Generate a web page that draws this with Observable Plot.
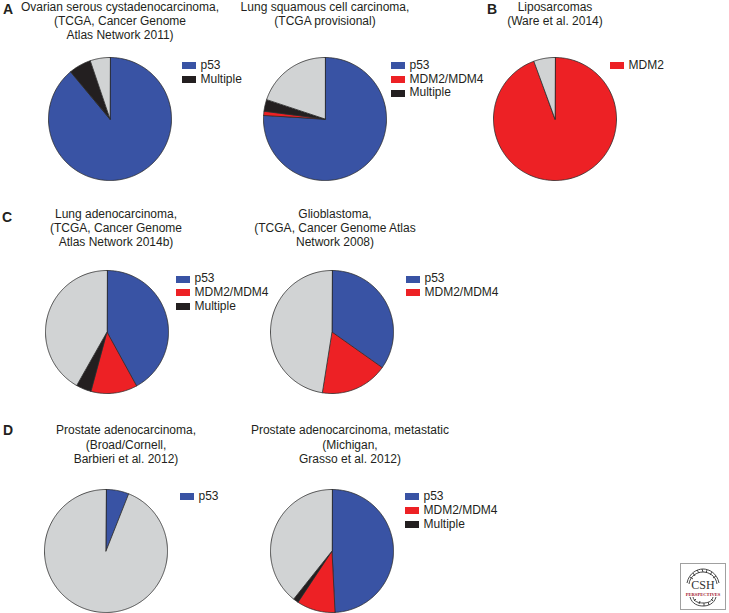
<!DOCTYPE html>
<html><head><meta charset="utf-8">
<script src="https://cdn.jsdelivr.net/npm/d3@7"></script>
<script src="https://cdn.jsdelivr.net/npm/@observablehq/plot@0.6"></script>
<style>
body{margin:0;background:#fff;}
#fig{position:relative;width:729px;height:613px;font-family:"Liberation Sans",Arial,Helvetica,sans-serif;color:#231f20;overflow:hidden;background:#fff;}
.title{position:absolute;width:320px;text-align:center;font-size:12px;line-height:14.2px;white-space:nowrap;}
.letter{position:absolute;font-weight:bold;font-size:14px;line-height:14px;}
.legend{position:absolute;font-size:12px;white-space:nowrap;}
.legend .row{display:flex;align-items:center;height:13.7px;line-height:13.7px;}
.legend .sw{width:13.5px;height:7px;margin-right:5px;flex:none;}
.pie{position:absolute;}
#logo{position:absolute;left:680px;top:563px;width:46px;height:47px;border:1px solid #a0a0a0;box-sizing:border-box;background:#fff;}
</style></head><body><div id="fig"></div>
<script>
// ---- data ----
const categories = ["p53", "MDM2/MDM4", "Multiple", "None"];
const colors = ["#3953a4", "#ed2125", "#231f20", "#d1d3d4"];

const ovarianValues     = [88.9, 0,    5.9, 5.2];
const lungSqValues      = [75.9, 1.1,  3.1, 19.9];
const liposarcomaValues = [0,    94.4, 0,   5.6];
const lungAdValues      = [42.0, 12.2, 4.0, 41.8];
const gbmValues         = [34.8, 17.7, 0,   47.5];
const prostateValues    = [6.0,  0,    0,   94.0];
const prostateMetValues = [49.2, 10.1, 1.4, 39.3];

const ovarianLegend     = ["p53", "Multiple"];
const lungSqLegend      = ["p53", "MDM2/MDM4", "Multiple"];
const liposarcomaLegend = ["MDM2"];
const lungAdLegend      = ["p53", "MDM2/MDM4", "Multiple"];
const gbmLegend         = ["p53", "MDM2/MDM4"];
const prostateLegend    = ["p53"];
const prostateMetLegend = ["p53", "MDM2/MDM4", "Multiple"];
const legendColorOf = {"p53": 0, "MDM2/MDM4": 1, "MDM2": 1, "Multiple": 2};

const ovarianTitle     = ["Ovarian serous cystadenocarcinoma,", "(TCGA, Cancer Genome", "Atlas Network 2011)"];
const lungSqTitle      = ["Lung squamous cell carcinoma,", "(TCGA provisional)"];
const liposarcomaTitle = ["Liposarcomas", "(Ware et al. 2014)"];
const lungAdTitle      = ["Lung adenocarcinoma,", "(TCGA, Cancer Genome", "Atlas Network 2014b)"];
const gbmTitle         = ["Glioblastoma,", "(TCGA, Cancer Genome Atlas", "Network 2008)"];
const prostateTitle    = ["Prostate adenocarcinoma,", "(Broad/Cornell,", "Barbieri et al. 2012)"];
const prostateMetTitle = ["Prostate adenocarcinoma, metastatic", "(Michigan,", "Grasso et al. 2012)"];

const panelLetters = ["A", "B", "C", "D"];

// ---- layout ----
const R = 61.5, M = 3, S = 2 * R + 2 * M;
const panels = [
  {values: ovarianValues, legend: ovarianLegend, title: ovarianTitle, cx: 109.3, cy: 118.3, tx: 120, ty: 0, lx: 182, ly: 65.7},
  {values: lungSqValues, legend: lungSqLegend, title: lungSqTitle, cx: 324.3, cy: 118.3, tx: 325, ty: 0, lx: 391, ly: 65.7},
  {values: liposarcomaValues, legend: liposarcomaLegend, title: liposarcomaTitle, cx: 554.3, cy: 118.3, tx: 555, ty: 0, lx: 610, ly: 65.7},
  {values: lungAdValues, legend: lungAdLegend, title: lungAdTitle, cx: 106, cy: 331.7, tx: 116, ty: 206.8, lx: 176, ly: 279.3},
  {values: gbmValues, legend: gbmLegend, title: gbmTitle, cx: 331, cy: 331.7, tx: 335, ty: 206.8, lx: 406, ly: 279.3},
  {values: prostateValues, legend: prostateLegend, title: prostateTitle, cx: 105.7, cy: 550, tx: 126, ty: 423.3, lx: 180, ly: 497},
  {values: prostateMetValues, legend: prostateMetLegend, title: prostateMetTitle, cx: 331, cy: 550, tx: 350, ty: 423.3, lx: 405, ly: 497}
];
const letterPos = [[3, 2.4], [487, 1.7], [2, 210], [3, 423.4]];

const fig = document.getElementById("fig");

function wedges(values) {
  const arcs = d3.pie().sort(null).value(d => d)(values);
  const pts = [];
  arcs.forEach((a, i) => {
    if (!a.value) return;
    const n = Math.max(2, Math.ceil((a.endAngle - a.startAngle) / (Math.PI / 180)));
    pts.push({cat: categories[i], x: 0, y: 0});
    for (let k = 0; k <= n; k++) {
      const t = a.startAngle + (a.endAngle - a.startAngle) * k / n;
      pts.push({cat: categories[i], x: Math.sin(t), y: Math.cos(t)});
    }
  });
  return pts;
}

panels.forEach(p => {
  const svg = Plot.plot({
    width: S, height: S, margin: M,
    x: {domain: [-1, 1], axis: null},
    y: {domain: [-1, 1], axis: null},
    color: {domain: categories, range: colors},
    style: {background: "transparent", overflow: "visible"},
    marks: [
      Plot.line(wedges(p.values), {x: "x", y: "y", z: "cat", fill: "cat", stroke: "#2a2a2a", strokeWidth: 0.8, strokeLinejoin: "round", curve: "linear-closed"})
    ]
  });
  svg.classList.add("pie");
  svg.style.left = (p.cx - S / 2) + "px";
  svg.style.top = (p.cy - S / 2) + "px";
  fig.appendChild(svg);

  const t = document.createElement("div");
  t.className = "title";
  t.style.left = (p.tx - 160) + "px";
  t.style.top = p.ty + "px";
  t.innerHTML = p.title.join("<br>");
  fig.appendChild(t);

  const lg = document.createElement("div");
  lg.className = "legend";
  lg.style.left = p.lx + "px";
  lg.style.top = (p.ly - 6.85) + "px";
  p.legend.forEach(l => {
    const row = document.createElement("div");
    row.className = "row";
    const sw = document.createElement("span");
    sw.className = "sw";
    sw.style.background = colors[legendColorOf[l]];
    row.appendChild(sw);
    const tx = document.createElement("span");
    tx.textContent = l;
    row.appendChild(tx);
    lg.appendChild(row);
  });
  fig.appendChild(lg);
});

panelLetters.forEach((L, i) => {
  const d = document.createElement("div");
  d.className = "letter";
  d.style.left = letterPos[i][0] + "px";
  d.style.top = letterPos[i][1] + "px";
  d.textContent = L;
  fig.appendChild(d);
});

// logo
const logo = document.createElement("div");
logo.id = "logo";
logo.innerHTML = `<svg width="44" height="45" viewBox="0 0 44 45">
<g fill="none" stroke="#333" stroke-width="0.9">
<path d="M6,19 C8,9 16,5 22,5 C28,5 36,9 38,19"/>
<path d="M8,20 C9,12 16,8 22,8 C28,8 35,12 36,20"/>
<path d="M9,13 L12,15 M12,9 L14,12 M16,6 L18,9 M21,5 L22,8 M26,6 L25,9 M31,8 L29,11 M35,12 L32,14"/>
<path d="M9,33 C11,40 17,42 22,42 C27,42 33,40 35,33"/>
<path d="M12,33 C13,38 18,39 22,39 C26,39 31,38 32,33"/>
<path d="M13,37 L15,35 M18,40 L19,37 M23,42 L23,39 M28,41 L27,38 M32,37 L30,35"/>
</g>
<text x="22" y="25" text-anchor="middle" font-family="Liberation Serif,serif" font-size="12" fill="#333">CSH</text>
<text x="22" y="31.5" text-anchor="middle" font-family="Liberation Serif,serif" font-size="4.6" font-weight="bold" fill="#a3162b">PERSPECTIVES</text>
</svg>`;
fig.appendChild(logo);
</script>
</body></html>
